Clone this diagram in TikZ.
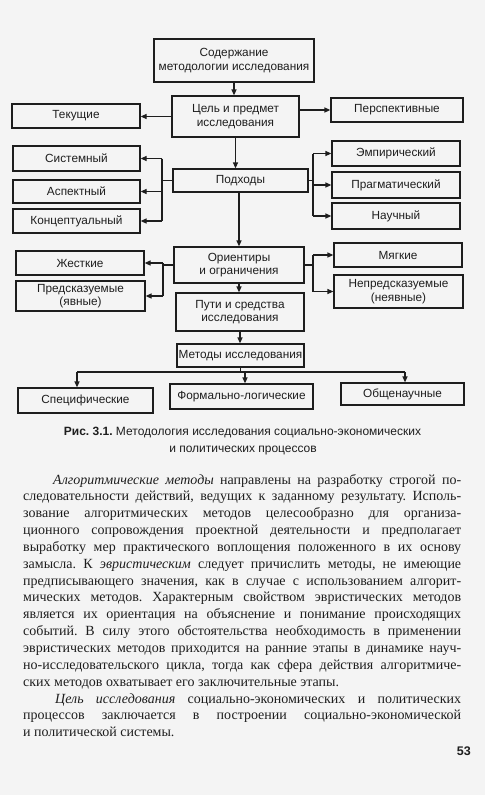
\documentclass[tikz,border=0pt]{standalone}
\usepackage{fontspec}
\setmainfont{Liberation Serif}
\setsansfont{Liberation Sans}
\usetikzlibrary{arrows.meta}
\definecolor{paper}{RGB}{244,244,244}
\definecolor{ink}{RGB}{30,30,30}
\frenchspacing
\newsavebox\jbox
\newlength\jlen
\newlength\jtarget
\newcommand\jline[2]{\setlength\jtarget{#1}\sbox\jbox{#2}\setlength\jlen{\wd\jbox}%
  \ifdim\jlen>\jtarget\relax
    \pgfmathsetmacro\jsz{14*\jtarget/\jlen}%
    {\fontsize{\jsz}{17}\selectfont\makebox[\jtarget][s]{#2}}%
  \else\makebox[\jtarget][s]{#2}\fi}
\begin{document}
\begin{tikzpicture}[x=1pt,y=-1pt,
  box/.style={draw=ink,line width=1.2pt,inner sep=0pt,align=center,text=ink,
    font=\sffamily\fontsize{11.8}{13.5}\selectfont},
  arr/.style={draw=ink,line width=1.2pt,-{Triangle[length=6pt,width=5pt]}},
  ln/.style={draw=ink,line width=1.2pt},
  body/.style={anchor=base west,inner sep=0pt,text=ink,
    font=\fontsize{14}{17}\selectfont},
  capt/.style={anchor=base,inner sep=0pt,text=ink,
    font=\sffamily\fontsize{12}{14}\selectfont}]
\fill[paper] (0,0) rectangle (485,795);
\useasboundingbox (0,0) rectangle (485,795);

% boxes
\node[box,minimum width=160pt,minimum height=43pt] (top) at (234,60.5) {Содержание\\методологии исследования};
\node[box,minimum width=127pt,minimum height=41pt] (cel) at (235.5,116.5) {Цель и предмет\\исследования};
\node[box,minimum width=128pt,minimum height=24pt] (tek) at (76,116) {Текущие};
\node[box,minimum width=132pt,minimum height=24pt] (persp) at (397,110) {Перспективные};
\node[box,minimum width=135pt,minimum height=23pt] (podh) at (240.5,180.5) {Подходы};
\node[box,minimum width=127pt,minimum height=25pt] (sist) at (76.5,158.5) {Системный};
\node[box,minimum width=127pt,minimum height=23pt] (asp) at (76.5,191.5) {Аспектный};
\node[box,minimum width=127pt,minimum height=24pt] (konc) at (76.5,221) {Концептуальный};
\node[box,minimum width=128pt,minimum height=25pt] (emp) at (396,153.5) {Эмпирический};
\node[box,minimum width=128pt,minimum height=26pt] (prag) at (396,185) {Прагматический};
\node[box,minimum width=128pt,minimum height=26pt] (nauch) at (396,216) {Научный};
\node[box,minimum width=130pt,minimum height=36pt] (orient) at (239,265) {Ориентиры\\и ограничения};
\node[box,minimum width=128pt,minimum height=24pt] (zhest) at (80,263) {Жесткие};
\node[box,minimum width=129pt,minimum height=30pt] (predsk) at (80.5,296) {Предсказуемые\\(явные)};
\node[box,minimum width=128pt,minimum height=24pt] (myag) at (398,255) {Мягкие};
\node[box,minimum width=129pt,minimum height=33pt] (nepred) at (398.5,291.5) {Непредсказуемые\\(неявные)};
\node[box,minimum width=128pt,minimum height=38pt] (puti) at (240,312) {Пути и средства\\исследования};
\node[box,minimum width=127pt,minimum height=23pt] (metody) at (240.5,355.5) {Методы исследования};
\node[box,minimum width=135pt,minimum height=25pt] (spec) at (85.5,400.5) {Специфические};
\node[box,minimum width=143pt,minimum height=25pt] (form) at (241.5,396.5) {Формально-логические};
\node[box,minimum width=123pt,minimum height=22pt] (obsch) at (402.5,394) {Общенаучные};

% branch coordinates
\coordinate (bl1) at (162,0);
\coordinate (br1) at (313,0);
\coordinate (bl2) at (163,0);
\coordinate (br2) at (313,0);
\coordinate (sa) at (77,372);
\coordinate (fa) at (245,372);
\coordinate (oa) at (405,372);

% connectors
\draw[arr] (top.south) -- (top.south |- cel.north);
\draw[arr] (cel.west) -- (cel.west -| tek.east);
\draw[arr] (cel.east |- persp.west) -- (persp.west);
\draw[arr] (cel.south) -- (cel.south |- podh.north);

\draw[ln] (podh.west) -- (podh.west -| bl1);
\draw[ln] (bl1 |- sist.east) -- (bl1 |- konc.east);
\draw[arr] (bl1 |- sist.east) -- (sist.east);
\draw[arr] (bl1 |- asp.east) -- (asp.east);
\draw[arr] (bl1 |- konc.east) -- (konc.east);

\draw[ln] (podh.east) -- (podh.east -| br1);
\draw[ln] (br1 |- emp.west) -- (br1 |- nauch.west);
\draw[arr] (br1 |- emp.west) -- (emp.west);
\draw[arr] (br1 |- prag.west) -- (prag.west);
\draw[arr] (br1 |- nauch.west) -- (nauch.west);

\draw[arr] (podh.south -| orient.north) -- (orient.north);

\draw[ln] (orient.west) -- (orient.west -| bl2);
\draw[ln] (bl2 |- zhest.east) -- (bl2 |- predsk.east);
\draw[arr] (bl2 |- zhest.east) -- (zhest.east);
\draw[arr] (bl2 |- predsk.east) -- (predsk.east);

\draw[ln] (orient.east) -- (orient.east -| br2);
\draw[ln] (br2 |- myag.west) -- (br2 |- nepred.west);
\draw[arr] (br2 |- myag.west) -- (myag.west);
\draw[arr] (br2 |- nepred.west) -- (nepred.west);

\draw[arr] (orient.south) -- (orient.south |- puti.north);
\draw[arr] (puti.south) -- (puti.south |- metody.north);

\draw[ln] (metody.south) -- (metody.south |- sa);
\draw[ln] (sa) -- (oa);
\draw[arr] (sa) -- (sa |- spec.north);
\draw[arr] (fa) -- (fa |- form.north);
\draw[arr] (oa) -- (oa |- obsch.north);

% caption
\node[capt] (cap1) at (242.5,435) {\textbf{Рис. 3.1.} Методология исследования социально-экономических};
\node[capt] (cap2) at (243,452) {и политических процессов};

% body text
\node[body] (l1) at (53,484) {\jline{408pt}{\textit{Алгоритмические методы} направлены на разработку строгой по-}};
\node[body] (l2) at (23,500.85) {\jline{438pt}{следовательности действий, ведущих к заданному результату. Исполь-}};
\node[body] (l3) at (23,517.7) {\jline{438pt}{зование алгоритмических методов целесообразно для организа-}};
\node[body] (l4) at (23,534.55) {\jline{438pt}{ционного сопровождения проектной деятельности и предполагает}};
\node[body] (l5) at (23,551.4) {\jline{438pt}{выработку мер практического воплощения положенного в их основу}};
\node[body] (l6) at (23,568.25) {\jline{438pt}{замысла. К \textit{эвристическим} следует причислить методы, не имеющие}};
\node[body] (l7) at (23,585.1) {\jline{438pt}{предписывающего значения, как в случае с использованием алгорит-}};
\node[body] (l8) at (23,601.95) {\jline{438pt}{мических методов. Характерным свойством эвристических методов}};
\node[body] (l9) at (23,618.8) {\jline{438pt}{является их ориентация на объяснение и понимание происходящих}};
\node[body] (l10) at (23,635.65) {\jline{438pt}{событий. В силу этого обстоятельства необходимость в применении}};
\node[body] (l11) at (23,652.5) {\jline{438pt}{эвристических методов приходится на ранние этапы в динамике науч-}};
\node[body] (l12) at (23,669.35) {\jline{438pt}{но-исследовательского цикла, тогда как сфера действия алгоритмиче-}};
\node[body] (l13) at (23,686.2) {ских методов охватывает его заключительные этапы.};
\node[body] (l14) at (55,703.05) {\jline{406pt}{\textit{Цель исследования} социально-экономических и политических}};
\node[body] (l15) at (23,719.9) {\jline{438pt}{процессов заключается в построении социально-экономической}};
\node[body] (l16) at (23,736.75) {и политической системы.};

\node[anchor=base east,inner sep=0pt,text=ink,font=\sffamily\bfseries\fontsize{12.5}{14}\selectfont] (pg) at (471,755) {53};
\end{tikzpicture}
\end{document}
